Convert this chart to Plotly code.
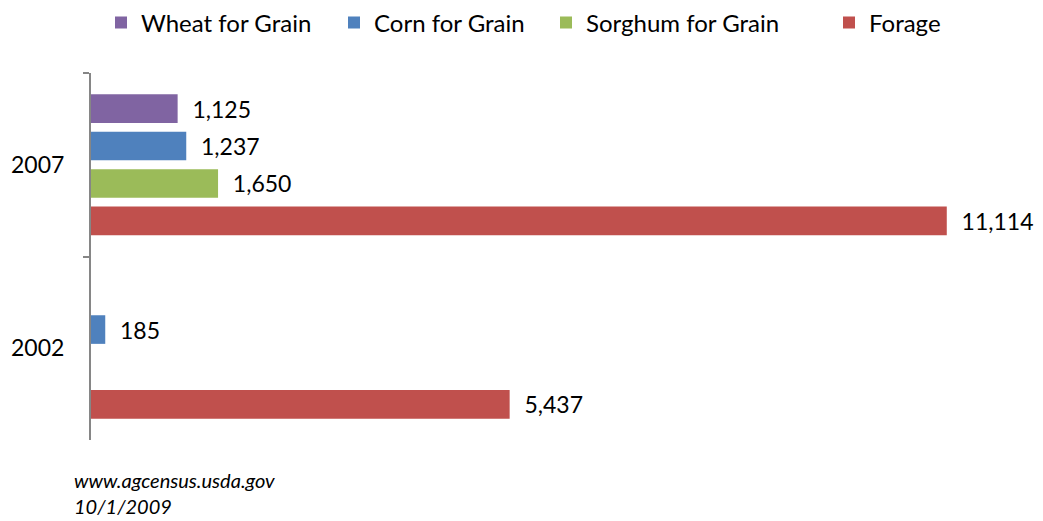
import plotly.graph_objects as go

years = ["2007", "2002"]
series = ["Wheat for Grain", "Corn for Grain", "Sorghum for Grain", "Forage"]
wheat = [1125, None]
corn = [1237, 185]
sorghum = [1650, None]
forage = [11114, 5437]
colors = ["#8064A2", "#4F81BD", "#9BBB59", "#C0504D"]
legend_x = [93, 326, 538, 821]

FONT = "Lato"
# the page body has an 8px margin, so the figure is drawn 8px smaller and shifted
W, H = 1035, 513
fig = go.Figure()
legend_layout = {}
for i, (name, vals, col) in enumerate(zip(series, [wheat, corn, sorghum, forage], colors)):
    lg = "legend" if i == 0 else f"legend{i+1}"
    fig.add_trace(go.Bar(
        y=years, x=vals, name=name, orientation="h", legend=lg,
        marker=dict(color=col, line=dict(width=0)),
        texttemplate="  %{x:,}", textposition="outside",
        textfont=dict(family=FONT, size=23, color="#000000"),
        cliponaxis=False,
    ))
    legend_layout[lg] = dict(orientation="h", xref="container", yref="container",
                             x=legend_x[i] / W, y=1 - 15 / H, xanchor="left", yanchor="middle",
                             font=dict(family=FONT, size=24, color="#000000"),
                             bgcolor="rgba(0,0,0,0)")

fig.update_layout(
    width=W, height=H,
    margin=dict(l=83, r=28, t=65, b=81, autoexpand=False),
    paper_bgcolor="white", plot_bgcolor="white",
    barmode="group", bargap=0.185, bargroupgap=0.235,
    font=dict(family=FONT, size=23, color="#000000"),
    showlegend=True,
    xaxis=dict(range=[0, 12000], visible=False, showgrid=False, zeroline=False),
    yaxis=dict(type="category", categoryorder="array", categoryarray=years,
               autorange="reversed", showline=True, linecolor="#868686", linewidth=2,
               ticks="outside", tickson="boundaries", ticklen=6, tickwidth=2,
               tickcolor="#868686", showgrid=False, zeroline=False, automargin=False,
               tickfont=dict(family=FONT, size=23), ticklabelstandoff=20),
    **legend_layout,
)

fig.add_annotation(xref="paper", yref="paper", x=(64 - 83) / 924, y=(432 - 458) / 367,
                   xanchor="left", yanchor="top",
                   text="<i>www.agcensus.usda.gov</i><br><i>10/1/2009</i>", showarrow=False,
                   align="left", font=dict(family=FONT, size=20, color="#000000"))

fig.write_html("out.html")
